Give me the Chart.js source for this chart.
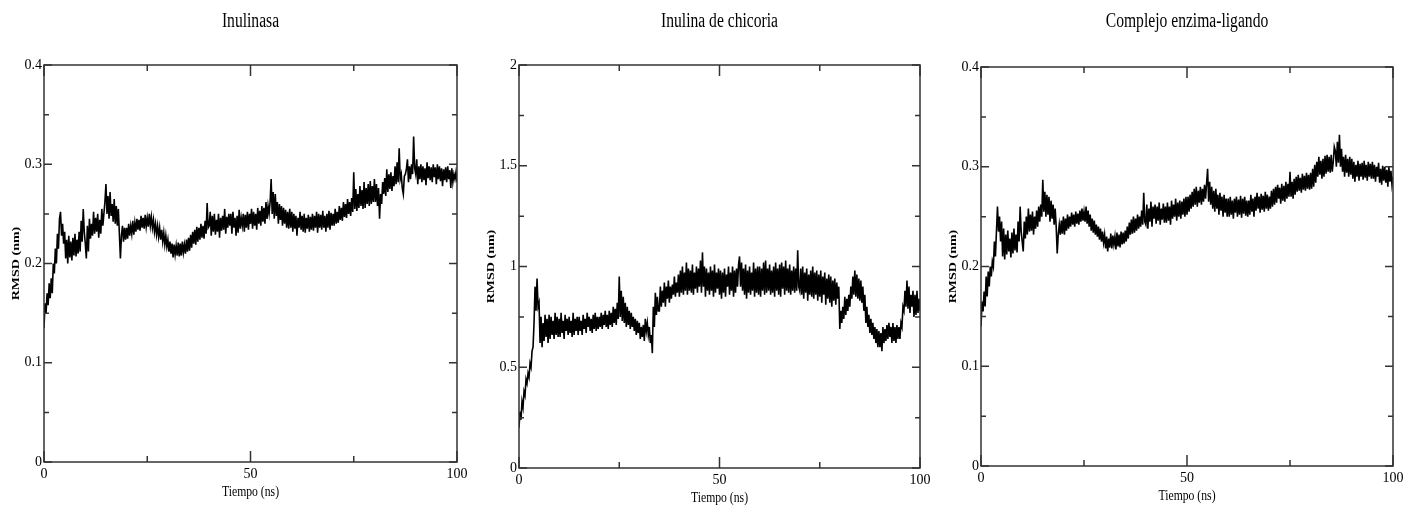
<!DOCTYPE html>
<html>
<head>
<meta charset="utf-8">
<script src="https://cdn.jsdelivr.net/npm/chart.js@4.4.1/dist/chart.umd.min.js"></script>
<style>
  html,body{margin:0;padding:0;background:#fff;overflow:hidden;}
  #wrap{position:relative;width:1404px;height:506px;}
  canvas{position:absolute;top:0;}
</style>
</head>
<body>
<div id="wrap">
  <canvas id="c1" width="475" height="506" style="left:0px"></canvas>
  <canvas id="c2" width="465" height="506" style="left:475px"></canvas>
  <canvas id="c3" width="475" height="506" style="left:940px"></canvas>
</div>
<script>
// tiempo (ns), cada 0.25 ns
const tiempo=Array.from({length:401},(_,i)=>i*0.25);

// RMSD (nm): bordes alto/bajo de la banda de ruido, bloques de 5 ns
const rmsdInulinasa=[
  .135,.16,.15,.17,.158,.18,.165,.185,.17,.2,.19,.215,.2,.23,.215,.245,.252,.228,.24,.22,
  .232,.205,.224,.2,.228,.206,.222,.203,.226,.208,.23,.207,.224,.21,.232,.212,.243,.222,.255,.232,
  .22,.205,.238,.212,.245,.225,.24,.228,.252,.23,.246,.232,.25,.226,.244,.23,.255,.238,.25,.262,
  .28,.25,.268,.245,.272,.248,.26,.242,.265,.24,.258,.238,.255,.23,.205,.228,.238,.222,.236,.224,
  .236,.225,.24,.228,.238,.23,.243,.229,.241,.232,.245,.234,.244,.233,.248,.236,.246,.235,.249,.237,
  .246,.237,.25,.238,.247,.236,.244,.232,.24,.229,.238,.227,.236,.224,.234,.222,.231,.219,.228,.217,
  .224,.212,.222,.21,.22,.206,.219,.209,.218,.208,.221,.207,.22,.208,.222,.211,.219,.21,.224,.212,
  .226,.213,.229,.216,.232,.22,.234,.219,.237,.222,.236,.224,.24,.226,.238,.225,.243,.23,.261,.236,
  .238,.252,.228,.248,.232,.25,.229,.244,.232,.25,.226,.246,.233,.248,.234,.255,.23,.247,.236,.25,
  .238,.25,.23,.252,.236,.246,.228,.248,.231,.254,.235,.246,.238,.25,.232,.249,.236,.252,.234,.25,
  .24,.255,.235,.252,.238,.25,.234,.256,.24,.253,.238,.258,.242,.256,.24,.262,.245,.258,.25,.262,
  .285,.25,.272,.245,.27,.248,.262,.24,.26,.244,.258,.238,.256,.24,.254,.236,.252,.235,.255,.236,
  .252,.232,.25,.235,.248,.228,.246,.236,.252,.234,.248,.232,.25,.231,.246,.235,.249,.232,.247,.234,
  .25,.233,.248,.236,.252,.231,.25,.236,.249,.234,.253,.236,.248,.232,.25,.236,.253,.234,.251,.238,
  .25,.238,.255,.24,.252,.241,.258,.244,.256,.243,.262,.247,.26,.246,.265,.25,.262,.248,.266,.252,
  .292,.255,.275,.253,.27,.256,.278,.258,.274,.255,.282,.256,.276,.26,.28,.258,.283,.26,.278,.262,
  .285,.262,.28,.258,.276,.245,.27,.26,.282,.27,.286,.268,.295,.272,.29,.275,.292,.273,.288,.278,
  .298,.28,.302,.282,.316,.285,.29,.276,.27,.288,.29,.295,.305,.282,.298,.285,.3,.29,.328,.296,
  .29,.305,.28,.298,.285,.3,.282,.298,.284,.296,.279,.302,.286,.298,.284,.297,.282,.3,.287,.297,
  .28,.3,.285,.298,.283,.296,.278,.295,.284,.297,.282,.298,.285,.294,.276,.296,.282,.29,.285,.292,
  .282
];
const rmsdInulina=[
  .2,.28,.24,.33,.3,.38,.36,.44,.42,.47,.45,.52,.5,.58,.6,.72,.9,.78,.94,.8,
  .82,.62,.75,.6,.72,.63,.76,.65,.74,.62,.76,.64,.75,.66,.73,.64,.77,.66,.75,.65,
  .74,.65,.77,.67,.73,.64,.76,.68,.74,.66,.75,.67,.73,.65,.77,.66,.74,.68,.75,.66,
  .75,.68,.73,.66,.76,.69,.74,.67,.77,.7,.75,.68,.74,.67,.76,.69,.77,.68,.75,.69,
  .75,.7,.77,.69,.76,.71,.78,.7,.76,.69,.78,.71,.77,.7,.8,.72,.79,.71,.82,.74,
  .95,.75,.88,.73,.85,.72,.82,.7,.8,.71,.78,.69,.77,.7,.75,.68,.74,.66,.73,.67,
  .72,.64,.7,.65,.71,.63,.74,.68,.72,.66,.7,.62,.66,.57,.8,.7,.87,.76,.85,.78,
  .78,.9,.8,.88,.82,.92,.8,.9,.84,.93,.82,.9,.84,.91,.86,.95,.85,.92,.87,.96,
  .85,.98,.87,1.0,.86,.97,.88,1.02,.86,.99,.88,.98,.87,1.01,.86,.97,.89,1.0,.87,.99,
  .9,1.03,.87,1.07,.9,1.0,.85,.99,.88,.97,.86,1.0,.88,.98,.85,1.01,.87,.97,.89,.99,
  .86,.98,.84,.97,.87,.99,.85,.96,.9,1.0,.86,.97,.88,1.0,.85,.98,.87,.99,.9,1.01,
  1.05,.9,1.02,.88,.99,.86,1.01,.84,.98,.87,1.0,.86,.97,.88,1.02,.85,.99,.87,1.0,.86,
  1.0,.85,.99,.88,1.02,.86,1.03,.87,.99,.88,1.01,.86,.98,.87,1.0,.85,1.02,.88,.99,.86,
  1.01,.85,1.02,.89,1.0,.86,1.03,.88,.99,.87,1.01,.86,.98,.88,1.0,.87,.99,.88,1.08,.9,
  .88,.99,.86,1.0,.84,.97,.87,.99,.83,.96,.86,.98,.85,1.0,.84,.97,.86,.98,.83,.96,
  .85,.98,.82,.95,.86,.97,.81,.94,.84,.96,.82,.95,.8,.93,.83,.94,.81,.92,.84,.9,
  .69,.78,.72,.8,.74,.85,.76,.84,.78,.86,.8,.9,.84,.95,.86,.98,.85,.96,.84,.94,
  .83,.93,.82,.9,.78,.86,.72,.8,.7,.76,.67,.74,.66,.72,.64,.7,.62,.69,.6,.68,
  .6,.67,.58,.7,.62,.69,.63,.71,.64,.72,.65,.7,.62,.72,.63,.7,.62,.71,.64,.7,
  .64,.72,.7,.8,.78,.88,.8,.93,.79,.9,.77,.86,.8,.88,.75,.86,.76,.88,.77,.84,
  .78
];
const rmsdComplejo=[
  .14,.165,.155,.175,.16,.19,.17,.195,.18,.2,.19,.205,.2,.225,.21,.235,.26,.235,.25,.225,
  .245,.21,.238,.207,.232,.212,.236,.215,.228,.209,.234,.213,.238,.216,.232,.214,.245,.225,.26,.235,
  .225,.215,.245,.228,.25,.232,.258,.235,.252,.236,.255,.232,.25,.238,.256,.24,.26,.245,.262,.25,
  .287,.255,.275,.25,.272,.252,.27,.245,.266,.248,.262,.242,.258,.24,.213,.232,.242,.232,.246,.233,
  .25,.232,.248,.236,.252,.238,.25,.24,.254,.242,.252,.24,.255,.243,.253,.242,.256,.245,.258,.246,
  .255,.245,.26,.243,.256,.24,.252,.236,.248,.234,.246,.232,.242,.23,.24,.227,.238,.225,.235,.224,
  .232,.218,.23,.215,.228,.219,.233,.218,.231,.222,.23,.217,.234,.22,.232,.219,.235,.222,.234,.223,
  .236,.225,.24,.228,.244,.232,.247,.233,.25,.234,.248,.236,.252,.238,.25,.24,.256,.242,.274,.245,
  .242,.262,.238,.258,.245,.265,.24,.26,.248,.262,.243,.26,.246,.264,.242,.258,.247,.263,.244,.26,
  .244,.264,.246,.26,.242,.266,.248,.262,.25,.268,.246,.264,.25,.266,.248,.265,.252,.268,.25,.27,
  .252,.27,.255,.272,.258,.275,.26,.278,.262,.28,.26,.276,.264,.28,.262,.278,.265,.282,.268,.283,
  .298,.265,.285,.262,.28,.258,.276,.255,.278,.258,.272,.252,.274,.256,.27,.25,.272,.254,.268,.25,
  .268,.25,.27,.252,.266,.248,.268,.254,.27,.25,.267,.252,.271,.249,.268,.253,.27,.251,.266,.25,
  .266,.252,.272,.255,.268,.25,.27,.256,.274,.258,.27,.254,.273,.257,.271,.255,.275,.258,.272,.256,
  .27,.258,.276,.26,.278,.262,.28,.264,.282,.268,.279,.263,.283,.266,.281,.265,.285,.268,.283,.27,
  .295,.27,.285,.268,.288,.272,.29,.275,.292,.276,.289,.274,.293,.277,.291,.276,.294,.278,.292,.277,
  .294,.278,.298,.28,.302,.284,.305,.29,.31,.292,.306,.288,.308,.29,.311,.293,.312,.295,.31,.294,
  .312,.295,.305,.32,.316,.3,.325,.304,.332,.3,.318,.295,.31,.29,.312,.294,.308,.29,.31,.292,
  .308,.288,.305,.285,.302,.29,.306,.286,.303,.29,.304,.287,.306,.289,.302,.286,.305,.29,.303,.288,
  .305,.288,.302,.285,.3,.29,.304,.284,.298,.282,.301,.286,.3,.284,.297,.28,.3,.285,.296,.282,
  .29
];

const ticksX=[0,50,100], minorX=[25,75];
const ticksY1=[0,0.1,0.2,0.3,0.4], minorY1=[0.05,0.15,0.25,0.35];
const ticksY2=[0,0.5,1,1.5,2], minorY2=[0.25,0.75,1.25,1.75];

const SERIF="'Liberation Serif','Times New Roman',serif";

// marco con ticks hacia dentro (estilo xmgrace) + titulos
const marco={
  id:'marco',
  afterDraw(chart,args,o){
    const {ctx,chartArea:a,scales:{x,y}}=chart;
    ctx.save();
    ctx.strokeStyle='#333';ctx.lineWidth=1.5;
    ctx.strokeRect(a.left,a.top,a.right-a.left,a.bottom-a.top);
    ctx.beginPath();
    const tx=(v,len)=>{const p=x.getPixelForValue(v);
      ctx.moveTo(p,a.bottom);ctx.lineTo(p,a.bottom-len);
      ctx.moveTo(p,a.top);ctx.lineTo(p,a.top+len);};
    const ty=(v,len)=>{const p=y.getPixelForValue(v);
      ctx.moveTo(a.left,p);ctx.lineTo(a.left+len,p);
      ctx.moveTo(a.right,p);ctx.lineTo(a.right-len,p);};
    ticksX.forEach(v=>tx(v,11));minorX.forEach(v=>tx(v,6));
    o.major.forEach(v=>ty(v,8));o.minor.forEach(v=>ty(v,5));
    ctx.stroke();
    ctx.fillStyle='#000';ctx.textAlign='center';ctx.textBaseline='middle';
    const cx=(a.left+a.right)/2;
    // titulo
    ctx.save();ctx.translate(cx,22);ctx.scale(0.78,1);
    ctx.font='20px '+SERIF;ctx.fillText(o.titulo,0,0);ctx.restore();
    // eje x
    ctx.save();ctx.translate(cx,a.bottom+30);ctx.scale(0.78,1);
    ctx.font='15px '+SERIF;ctx.fillText('Tiempo (ns)',0,0);ctx.restore();
    // eje y
    ctx.save();ctx.translate(a.left-28,(a.top+a.bottom)/2);ctx.rotate(-Math.PI/2);
    ctx.scale(1,0.8);ctx.font='bold 14px '+SERIF;ctx.fillText('RMSD (nm)',0,0);ctx.restore();
    ctx.restore();
  }
};

function panel(id,titulo,serie,ymax,major,minor,yw,padR,top,xh){
  new Chart(document.getElementById(id),{
    type:'line',
    data:{datasets:[{data:tiempo.map((t,i)=>({x:t,y:serie[i]})),
      borderColor:'#000',borderWidth:1.6,pointRadius:0,tension:0}]},
    options:{
      responsive:false,animation:false,devicePixelRatio:1,
      layout:{padding:{top:top,right:padR,bottom:0,left:0}},
      plugins:{legend:{display:false},tooltip:{enabled:false},
        marco:{titulo,major,minor}},
      scales:{
        x:{type:'linear',min:0,max:100,
          afterFit:s=>{s.height=xh;},
          afterBuildTicks:s=>{s.ticks=ticksX.map(v=>({value:v}));},
          grid:{display:false,drawTicks:false},border:{display:false},
          ticks:{color:'#000',font:{family:SERIF,size:14},padding:4,maxRotation:0,autoSkip:false,
            callback:v=>String(v)}},
        y:{min:0,max:ymax,
          afterFit:s=>{s.width=yw;},
          afterBuildTicks:s=>{s.ticks=major.map(v=>({value:v}));},
          grid:{display:false,drawTicks:false},border:{display:false},
          ticks:{color:'#000',font:{family:SERIF,size:14},padding:2,
            callback:v=>String(v)}}
      }
    },
    plugins:[marco]
  });
}

panel('c1','Inulinasa',rmsdInulinasa,0.4,ticksY1,minorY1,44,18,65,44);
panel('c2','Inulina de chicoria',rmsdInulina,2,ticksY2,minorY2,44,20,65,38);
panel('c3','Complejo enzima-ligando',rmsdComplejo,0.4,ticksY1,minorY1,41,22,67,40);
</script>
</body>
</html>
